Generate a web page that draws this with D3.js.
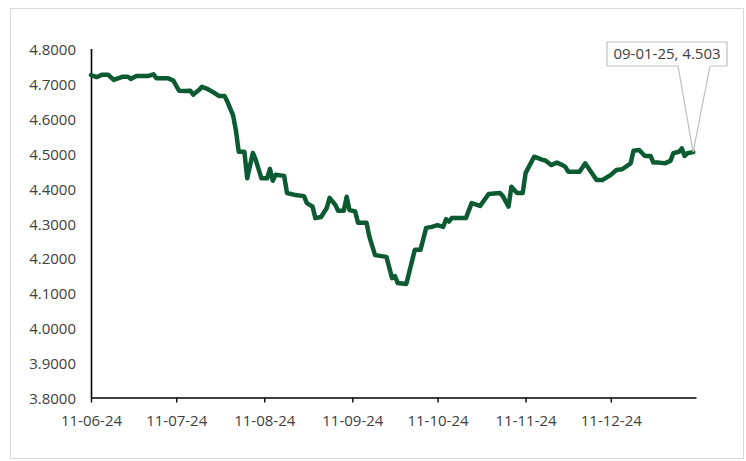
<!DOCTYPE html>
<html>
<head>
<meta charset="utf-8">
<script src="https://cdn.jsdelivr.net/npm/d3@7/dist/d3.min.js"></script>
<style>
  html, body { margin: 0; padding: 0; background: #fff; }
  svg { display: block; }
  .tick text { font-family: "Open Sans", "Liberation Sans", sans-serif; font-size: 15px; fill: #404040; }
</style>
</head>
<body>
<svg id="chart" width="746" height="461"></svg>
<script>
// Observation dates (yyyy-mm-dd)
const dates = [
  "2024-06-11","2024-06-13","2024-06-15","2024-06-17","2024-06-19","2024-06-22","2024-06-24","2024-06-25","2024-06-27",
  "2024-07-01","2024-07-03","2024-07-04","2024-07-08","2024-07-10","2024-07-12","2024-07-14","2024-07-16","2024-07-17",
  "2024-07-19","2024-07-20","2024-07-22","2024-07-24","2024-07-26","2024-07-28","2024-07-29","2024-07-31",
  "2024-08-01","2024-08-02","2024-08-04","2024-08-05","2024-08-07","2024-08-08","2024-08-10","2024-08-12","2024-08-13",
  "2024-08-14","2024-08-15","2024-08-18","2024-08-19","2024-08-22","2024-08-25","2024-08-26","2024-08-28","2024-08-29","2024-08-31",
  "2024-09-02","2024-09-03","2024-09-05","2024-09-06","2024-09-08","2024-09-09","2024-09-10","2024-09-12","2024-09-13",
  "2024-09-16","2024-09-17","2024-09-19","2024-09-23","2024-09-25","2024-09-26","2024-09-27","2024-09-30",
  "2024-10-03","2024-10-05","2024-10-07","2024-10-09","2024-10-11","2024-10-13","2024-10-14","2024-10-15","2024-10-16",
  "2024-10-21","2024-10-23","2024-10-26","2024-10-29",
  "2024-11-02","2024-11-03","2024-11-05","2024-11-06","2024-11-08","2024-11-10","2024-11-11","2024-11-14","2024-11-17",
  "2024-11-18","2024-11-20","2024-11-22","2024-11-24","2024-11-25","2024-11-26","2024-11-30",
  "2024-12-02","2024-12-04","2024-12-06","2024-12-08","2024-12-11","2024-12-13","2024-12-15","2024-12-18","2024-12-19",
  "2024-12-21","2024-12-23","2024-12-25","2024-12-26","2024-12-28","2024-12-30",
  "2025-01-01","2025-01-02","2025-01-04","2025-01-05","2025-01-06","2025-01-07","2025-01-09"
];

// Series values
const values = [
  4.724,4.718,4.725,4.725,4.710,4.719,4.719,4.713,4.721,
  4.721,4.726,4.715,4.715,4.708,4.679,4.678,4.679,4.668,
  4.681,4.690,4.684,4.675,4.664,4.664,4.648,4.609,
  4.566,4.504,4.504,4.428,4.501,4.481,4.428,4.428,4.455,
  4.421,4.438,4.435,4.386,4.380,4.377,4.357,4.347,4.314,4.317,
  4.343,4.372,4.352,4.335,4.335,4.375,4.337,4.333,4.301,
  4.301,4.261,4.208,4.203,4.142,4.148,4.128,4.125,
  4.223,4.223,4.286,4.289,4.294,4.289,4.311,4.304,4.314,
  4.314,4.357,4.349,4.383,
  4.386,4.377,4.347,4.404,4.386,4.386,4.443,4.490,4.481,
  4.479,4.466,4.473,4.466,4.461,4.447,4.447,
  4.471,4.447,4.423,4.423,4.438,4.452,4.454,4.471,4.507,
  4.509,4.492,4.492,4.473,4.473,4.471,
  4.478,4.500,4.504,4.514,4.492,4.500,4.503
];

// Axis ticks
const xTickDates = ["2024-06-11","2024-07-11","2024-08-11","2024-09-11","2024-10-11","2024-11-11","2024-12-11"];
const yTicks = [3.8, 3.9, 4.0, 4.1, 4.2, 4.3, 4.4, 4.5, 4.6, 4.7, 4.8];

const parse = d3.timeParse("%Y-%m-%d");
const fmtDate = d3.timeFormat("%d-%m-%y");
const data = dates.map((d, i) => ({ date: parse(d), value: values[i] }));

const svg = d3.select("#chart");

// outer chart border
svg.append("rect")
  .attr("x", 10.5).attr("y", 8.5)
  .attr("width", 733).attr("height", 450)
  .attr("fill", "#fff").attr("stroke", "#d9d9d9").attr("stroke-width", 1);

const x = d3.scaleTime()
  .domain([parse("2024-06-11"), parse("2025-01-10")])
  .range([91, 696]);

const y = d3.scaleLinear()
  .domain([3.8, 4.8])
  .range([397.5, 48.5]);

// y axis
const yAxis = svg.append("g")
  .attr("transform", "translate(91,0)")
  .call(d3.axisLeft(y).tickValues(yTicks).tickFormat(d3.format(".4f")).tickSize(0).tickPadding(15));
yAxis.select(".domain").attr("stroke", "#000").attr("stroke-width", 1.6);
yAxis.selectAll(".tick text").attr("dy", "0.4em");

// x axis
const xAxis = svg.append("g")
  .attr("transform", "translate(0,397.5)")
  .call(d3.axisBottom(x).tickValues(xTickDates.map(parse)).tickFormat(fmtDate)
    .tickSize(5).tickSizeOuter(0).tickPadding(13));
xAxis.select(".domain").attr("stroke", "#000").attr("stroke-width", 1.6);
xAxis.selectAll(".tick line").attr("stroke", "#000").attr("stroke-width", 1.4);

// series line
const line = d3.line()
  .x(d => x(d.date))
  .y(d => y(d.value));

svg.append("path")
  .datum(data)
  .attr("fill", "none")
  .attr("stroke", "#0b5a32")
  .attr("stroke-width", 4.5)
  .attr("stroke-linejoin", "round")
  .attr("stroke-linecap", "round")
  .attr("d", line);

// data callout for the latest point
const last = data[data.length - 1];
const tipX = x(last.date), tipY = y(last.value);
const box = { x: 607, y: 42, w: 120, h: 24 };

const callout = svg.append("g");
callout.append("path")
  .attr("d", `M${box.x},${box.y} H${box.x + box.w} V${box.y + box.h} H${710} L${tipX},${tipY} L${678},${box.y + box.h} H${box.x} Z`)
  .attr("fill", "#fff")
  .attr("stroke", "#bfbfbf")
  .attr("stroke-width", 1.2)
  .attr("stroke-linejoin", "miter");

callout.append("text")
  .attr("x", box.x + box.w / 2)
  .attr("y", box.y + box.h / 2)
  .attr("dy", "0.36em")
  .attr("text-anchor", "middle")
  .attr("font-family", "\"Open Sans\", \"Liberation Sans\", sans-serif")
  .attr("font-size", 15)
  .attr("fill", "#404040")
  .text(`${fmtDate(last.date)}, ${last.value.toFixed(3)}`);
</script>
</body>
</html>
